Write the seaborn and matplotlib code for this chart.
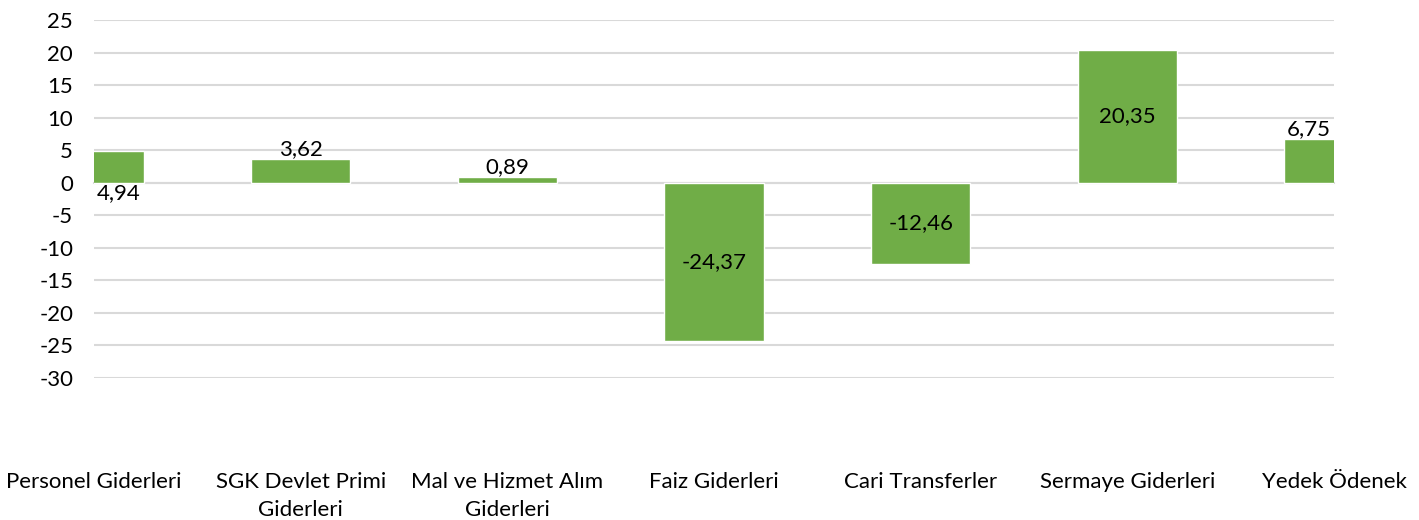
import matplotlib
matplotlib.use("Agg")
import matplotlib.pyplot as plt
import numpy as np
import pandas as pd
import seaborn as sns

categories = [
    "Personel Giderleri",
    "SGK Devlet Primi\nGiderleri",
    "Mal ve Hizmet Alım\nGiderleri",
    "Faiz Giderleri",
    "Cari Transferler",
    "Sermaye Giderleri",
    "Yedek Ödenek",
]
values = [4.94, 3.62, 0.89, -24.37, -12.46, 20.35, 6.75]
# where Excel put each data label
label_pos = ["base", "end", "end", "center", "center", "center", "end"]
y_ticks = list(range(-30, 30, 5))

BAR_COLOR = "#70AD47"
GRID_COLOR = "#D9D9D9"
BAR_WIDTH = 0.48
FS = 16

sns.set_theme(style="white")
plt.rcParams["font.family"] = ["Lato", "DejaVu Sans"]
plt.rcParams["text.color"] = "black"
plt.rcParams["xtick.labelcolor"] = "black"
plt.rcParams["ytick.labelcolor"] = "black"

df = pd.DataFrame({"category": categories, "value": values})

fig = plt.figure(figsize=(14.19, 5.2), dpi=100)
ax = fig.add_axes([94 / 1419, 1 - 378 / 520, (1334 - 94) / 1419, 358 / 520])

sns.barplot(data=df, x="category", y="value", color=BAR_COLOR, saturation=1,
            width=BAR_WIDTH, edgecolor="white", linewidth=1, ax=ax, zorder=3)

ax.set_xlim(0, len(categories) - 1)
ax.set_ylim(min(y_ticks), max(y_ticks))
ax.set_yticks(y_ticks)
ax.set_yticklabels([str(t) for t in y_ticks])
ax.yaxis.grid(True, color=GRID_COLOR, linewidth=1.5, zorder=0)
ax.set_xlabel("")
ax.set_ylabel("")

for side in ["left", "right", "top"]:
    ax.spines[side].set_visible(False)
ax.spines["bottom"].set_position(("data", 0))
ax.spines["bottom"].set_color(GRID_COLOR)
ax.spines["bottom"].set_linewidth(1.5)
ax.spines["bottom"].set_zorder(1)

ax.tick_params(axis="y", length=0, pad=15, labelsize=FS)
ax.tick_params(axis="x", direction="out", length=6, width=1.5, color=GRID_COLOR,
               pad=202, labelsize=FS)
for lab in ax.get_xticklabels():
    lab.set_multialignment("center")
    lab.set_linespacing(1.5)

xmin, xmax = ax.get_xlim()
for i, (v, pos) in enumerate(zip(values, label_pos)):
    left = max(i - BAR_WIDTH / 2, xmin)
    right = min(i + BAR_WIDTH / 2, xmax)
    xc = (left + right) / 2
    txt = f"{v:.2f}".replace(".", ",")
    if pos == "center":
        ax.text(xc, v / 2, txt, ha="center", va="center", fontsize=FS, zorder=5)
    elif pos == "end":
        ax.text(xc, v, txt, ha="center", va="bottom", fontsize=FS, zorder=5)
    else:
        ax.text(xc, 0, txt, ha="center", va="top", fontsize=FS, zorder=5)

fig.savefig("out.png", dpi=100, facecolor="white")
